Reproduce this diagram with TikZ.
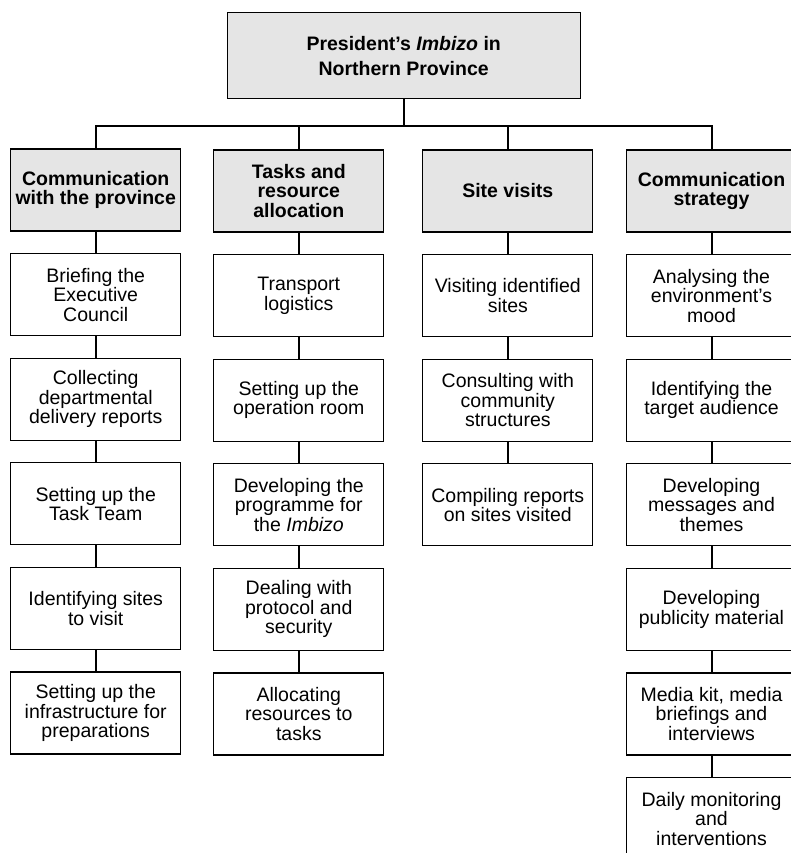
\documentclass[tikz,border=0pt]{standalone}
\usepackage{fontspec}
\setmainfont{Liberation Sans}
\usetikzlibrary{positioning}
\definecolor{boxgray}{gray}{0.9}

\begin{document}
\begin{tikzpicture}[x=1pt,y=1pt,node distance=21.5pt,
  box/.style={draw,line width=1.1pt,minimum width=170pt,minimum height=82pt,
    align=center,inner sep=2pt,font=\fontsize{19.5}{19.5}\selectfont},
  headbox/.style={box,fill=boxgray,font=\fontsize{19.5}{19.5}\selectfont\bfseries},
  link/.style={line width=2pt}]
  \useasboundingbox (0,0) rectangle (791,-853);
  \clip (0,0) rectangle (791,-853);
  \node[box,fill=boxgray,minimum width=353pt,minimum height=86pt,
    font=\fontsize{19.5}{25}\selectfont\bfseries] (top) at (403.7,-55.7)
    {President’s \textit{Imbizo} in\\Northern Province};

  % four branches
  \node[headbox] (h1) at (95.7,-190) {Communication\\with the province};
  \node[headbox] (h2) at (298.8,-191) {Tasks and\\resource\\allocation};
  \node[headbox] (h3) at (507.8,-191) {Site visits};
  \node[headbox] (h4) at (711.5,-191) {Communication\\strategy};

  \node[box,below=of h1] (a1) {Briefing the\\Executive\\Council};
  \node[box,below=of a1] (a2) {Collecting\\departmental\\delivery reports};
  \node[box,below=of a2] (a3) {Setting up the\\Task Team};
  \node[box,below=of a3] (a4) {Identifying sites\\to visit};
  \node[box,below=of a4] (a5) {Setting up the\\infrastructure for\\preparations};

  \node[box,below=of h2] (b1) {Transport\\logistics};
  \node[box,below=of b1] (b2) {Setting up the\\operation room};
  \node[box,below=of b2] (b3) {Developing the\\programme for\\the \textit{Imbizo}};
  \node[box,below=of b3] (b4) {Dealing with\\protocol and\\security};
  \node[box,below=of b4] (b5) {Allocating\\resources to\\tasks};

  \node[box,below=of h3] (c1) {Visiting identified\\sites};
  \node[box,below=of c1] (c2) {Consulting with\\community\\structures};
  \node[box,below=of c2] (c3) {Compiling reports\\on sites visited};

  \node[box,below=of h4] (d1) {Analysing the\\environment’s\\mood};
  \node[box,below=of d1] (d2) {Identifying the\\target audience};
  \node[box,below=of d2] (d3) {Developing\\messages and\\themes};
  \node[box,below=of d3] (d4) {Developing\\publicity material};
  \node[box,below=of d4] (d5) {Media kit, media\\briefings and\\interviews};
  \node[box,below=of d5] (d6) {Daily monitoring\\and\\interventions};

  % connectors
  \coordinate (bus) at (0,-125.7);
  \draw[link] (top.south) -- (top.south |- bus);
  \draw[link] (h1.north) |- (bus -| h4.north) -- (h4.north);
  \foreach \n in {h2,h3}
    \draw[link] (\n.north) -- (\n.north |- bus);
  \foreach \a/\b in {h1/a1,a1/a2,a2/a3,a3/a4,a4/a5,
                     h2/b1,b1/b2,b2/b3,b3/b4,b4/b5,
                     h3/c1,c1/c2,c2/c3,
                     h4/d1,d1/d2,d2/d3,d3/d4,d4/d5,d5/d6}
    \draw[link] (\a) -- (\b);
\end{tikzpicture}
\end{document}
